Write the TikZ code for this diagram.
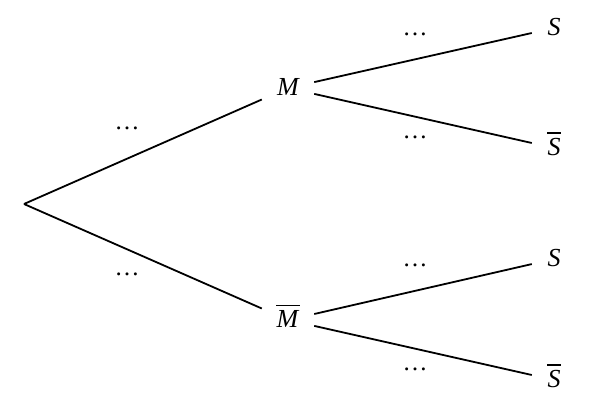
\documentclass[tikz,border=0pt]{standalone}
\usepackage{fontspec}
\setmainfont{Liberation Serif}
\newcommand\ovl[1]{\vbox{\hrule height 1.8pt\vskip 4.5pt\hbox{\kern0.5pt\itshape #1\/\kern0.5pt}}}
\begin{document}
\begin{tikzpicture}[x=1pt,y=-1pt,
  lbl/.style={inner sep=0pt, text height=16pt, text depth=0pt, minimum height=32pt, font=\fontsize{26}{30}\selectfont\itshape},
  mid/.style={lbl, minimum width=52pt},
  leaf/.style={lbl, minimum width=44pt},
  dots/.style={inner sep=0pt, anchor=base, font=\fontsize{25}{28}\selectfont},
  edge/.style={line width=1.8pt}]
\useasboundingbox (0,0) rectangle (590,414);
\coordinate (r) at (24,204);
\node[mid] (m) at (288,88) {M};
\node[mid] (mb) at (288,320) {\ovl{M}};
\node[leaf] (s1) at (554,28) {S};
\node[leaf] (s1b) at (554,148) {\ovl{S}};
\node[leaf] (s2) at (554,259) {S};
\node[leaf] (s2b) at (554,380) {\ovl{S}};
\draw[edge] (r) -- (m);
\draw[edge] (r) -- (mb);
\draw[edge] (m) -- (s1);
\draw[edge] (m) -- (s1b);
\draw[edge] (mb) -- (s2);
\draw[edge] (mb) -- (s2b);
\node[dots] (d1) at (127,129.5) {\textellipsis};
\node[dots] (d2) at (127,275.5) {\textellipsis};
\node[dots] (d3) at (415,35.5) {\textellipsis};
\node[dots] (d4) at (415,138.5) {\textellipsis};
\node[dots] (d5) at (415,266.5) {\textellipsis};
\node[dots] (d6) at (415,370.5) {\textellipsis};
\end{tikzpicture}
\end{document}
